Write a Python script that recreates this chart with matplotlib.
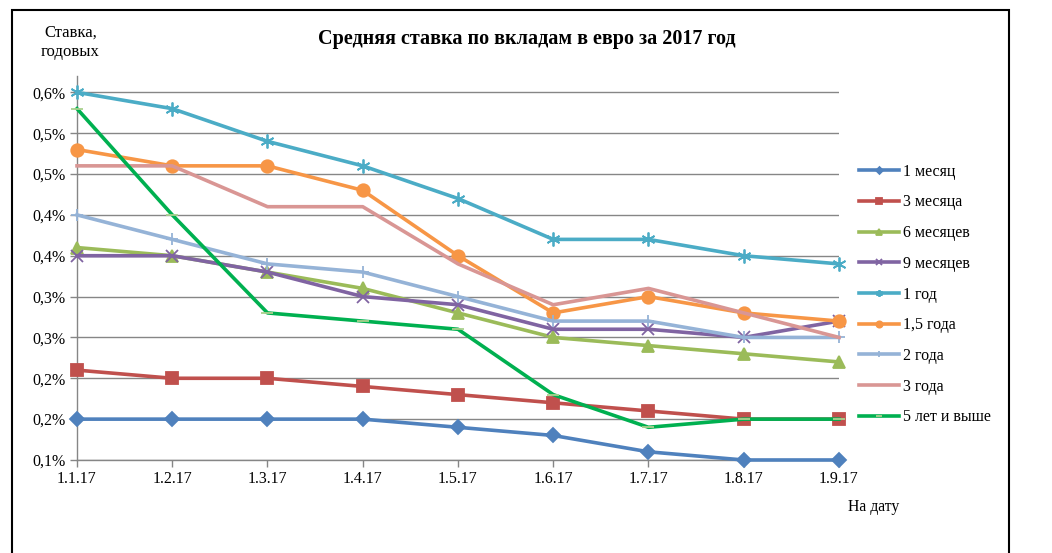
import matplotlib
matplotlib.use("Agg")
import matplotlib.pyplot as plt
from matplotlib.patches import Rectangle
from matplotlib.ticker import FuncFormatter
import math

plt.rcParams["font.family"] = ["Liberation Serif", "DejaVu Serif"]

# данные
dates = ["1.1.17", "1.2.17", "1.3.17", "1.4.17", "1.5.17",
         "1.6.17", "1.7.17", "1.8.17", "1.9.17"]

m1 = [0.15, 0.15, 0.15, 0.15, 0.14, 0.13, 0.11, 0.10, 0.10]
m3 = [0.21, 0.20, 0.20, 0.19, 0.18, 0.17, 0.16, 0.15, 0.15]
m6 = [0.36, 0.35, 0.33, 0.31, 0.28, 0.25, 0.24, 0.23, 0.22]
m9 = [0.35, 0.35, 0.33, 0.30, 0.29, 0.26, 0.26, 0.25, 0.27]
y1 = [0.55, 0.53, 0.49, 0.46, 0.42, 0.37, 0.37, 0.35, 0.34]
y15 = [0.48, 0.46, 0.46, 0.43, 0.35, 0.28, 0.30, 0.28, 0.27]
y2 = [0.40, 0.37, 0.34, 0.33, 0.30, 0.27, 0.27, 0.25, 0.25]
y3 = [0.46, 0.46, 0.41, 0.41, 0.34, 0.29, 0.31, 0.28, 0.25]
y5 = [0.53, 0.40, 0.28, 0.27, 0.26, 0.18, 0.14, 0.15, 0.15]

series = [
    ("1 месяц", m1, "#4F81BD", "D", 7, None),
    ("3 месяца", m3, "#C0504D", "s", 8, None),
    ("6 месяцев", m6, "#9BBB59", "^", 8, None),
    ("9 месяцев", m9, "#8064A2", "x", 8, None),
    ("1 год", y1, "#4BACC6", (6, 2, 0), 10, None),
    ("1,5 года", y15, "#F79646", "o", 9, None),
    ("2 года", y2, "#95B3D7", "+", 9, None),
    ("3 года", y3, "#D99694", None, 0, None),
    ("5 лет и выше", y5, "#00B050", "_", 9, "#A9D18E"),
]

fig = plt.figure(figsize=(10.52, 5.53), dpi=100)
ax = fig.add_axes([0.0732, 0.1682, 0.7243, 0.6944])

x = range(len(dates))
for name, vals, color, marker, ms, mcolor in series:
    ax.plot(x, vals, color=color, linewidth=2.6, marker=marker, markersize=ms,
            markeredgewidth=1.3, markeredgecolor=mcolor or color,
            markerfacecolor=mcolor or color, label=name, clip_on=False, zorder=3)

ax.set_xlim(0, len(dates) - 1)
ax.set_ylim(0.10, 0.57)
ax.set_yticks([0.10 + 0.05 * i for i in range(10)])


def _fmt(v, _):
    return f"{math.floor(v * 10 + 0.5 + 1e-9) / 10:.1f}%".replace(".", ",")


ax.yaxis.set_major_formatter(FuncFormatter(_fmt))
ax.set_xticks(list(x))
ax.set_xticklabels(dates)
ax.tick_params(axis="both", labelsize=11.5, color="#868686", length=5, width=1)
ax.tick_params(axis="x", pad=3)
ax.tick_params(axis="y", pad=3)

ax.grid(axis="y", color="#868686", linewidth=1)
ax.set_axisbelow(True)
for s in ["top", "right"]:
    ax.spines[s].set_visible(False)
for s in ["left", "bottom"]:
    ax.spines[s].set_color("#868686")
    ax.spines[s].set_linewidth(1)

fig.text(0.501, 0.93, "Средняя ставка по вкладам в евро за 2017 год",
         ha="center", va="center", fontsize=14.5, fontweight="bold")
fig.text(0.067, 0.923, "Ставка,\nгодовых", ha="center", va="center",
         fontsize=12, linespacing=1.25)
fig.text(0.830, 0.083, "На дату", ha="center", va="center", fontsize=11.3)

leg = ax.legend(loc="upper left", bbox_to_anchor=(1.018, 0.788), frameon=False,
                fontsize=11.5, handlelength=2.5, handletextpad=0.25,
                labelspacing=0.92, markerscale=0.5, borderaxespad=0)

fig.patches.append(Rectangle((12 / 1052, -0.05), (1009 - 12) / 1052,
                             1.05 - 10 / 553, transform=fig.transFigure,
                             fill=False, edgecolor="black", linewidth=1.5))

fig.savefig("out.png", dpi=100, facecolor="white")
